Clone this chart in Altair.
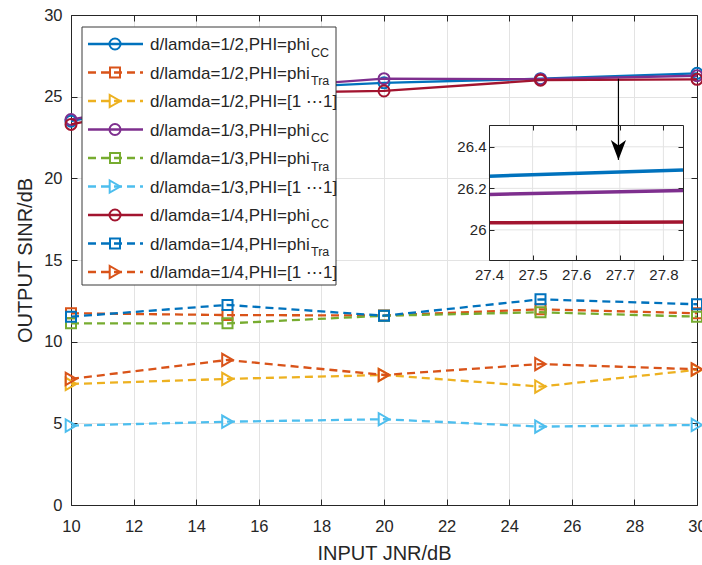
import altair as alt
import pandas as pd

# ---------------------------------------------------------------- data
jnr = [10, 15, 20, 25, 30]

legend_main = [
    "d/lamda=1/2,PHI=phi", "d/lamda=1/2,PHI=phi", "d/lamda=1/2,PHI=[1 \u22ef1]",
    "d/lamda=1/3,PHI=phi", "d/lamda=1/3,PHI=phi", "d/lamda=1/3,PHI=[1 \u22ef1]",
    "d/lamda=1/4,PHI=phi", "d/lamda=1/4,PHI=phi", "d/lamda=1/4,PHI=[1 \u22ef1]",
]
legend_sub = ["CC", "Tra", "", "CC", "Tra", "", "CC", "Tra", ""]
kinds = ["cc", "tra", "one"] * 3

sinr_half_cc = [23.50, 25.40, 25.85, 26.10, 26.43]
sinr_half_tra = [11.74, 11.63, 11.60, 11.98, 11.74]
sinr_half_one = [7.41, 7.72, 7.96, 7.25, 8.28]
sinr_third_cc = [23.60, 25.40, 26.10, 26.07, 26.28]
sinr_third_tra = [11.12, 11.12, 11.59, 11.80, 11.53]
sinr_third_one = [4.86, 5.10, 5.25, 4.80, 4.90]
sinr_quarter_cc = [23.30, 25.20, 25.35, 26.01, 26.06]
sinr_quarter_tra = [11.53, 12.25, 11.59, 12.59, 12.29]
sinr_quarter_one = [7.72, 8.88, 7.96, 8.63, 8.31]

all_series = [sinr_half_cc, sinr_half_tra, sinr_half_one,
              sinr_third_cc, sinr_third_tra, sinr_third_one,
              sinr_quarter_cc, sinr_quarter_tra, sinr_quarter_one]

x_ticks = [10, 12, 14, 16, 18, 20, 22, 24, 26, 28, 30]
y_ticks = [0, 5, 10, 15, 20, 25, 30]
inset_x_ticks = [27.4, 27.5, 27.6, 27.7, 27.8]
inset_y_ticks = [26.0, 26.2, 26.4]

# ---------------------------------------------------------------- style
colors = ["#0072BD", "#D95319", "#EDB120", "#7E2F8E", "#77AC30",
          "#4DBEEE", "#A2142F", "#0072BD", "#D95319"]
shape_of = {"cc": "circle", "tra": "square", "one": "triangle-right"}
size_of = {"cc": 121, "tra": 100, "one": 150}
DASH = [8, 5]
FONT = "Liberation Sans"
INK = "#262626"
GRID = "#e3e3e3"

W, H = 626, 490
X_DOM, Y_DOM = [10, 30], [0, 30]
INSET_X, INSET_Y = [27.4, 27.845], [25.855, 26.505]
INSET_XR, INSET_YR = [418, 612], [245, 110]   # pixel extent of the zoom box
ARROW_X, ARROW_TOP, ARROW_TIP = 27.49, 26.1, 21.13

uid = [f"s{i}" for i in range(9)]
rows = []
for i, vals in enumerate(all_series):
    for x, v in zip(jnr, vals):
        rows.append({"sid": uid[i], "idx": i, "jnr": x, "sinr": v})
df = pd.DataFrame(rows)

leg = pd.DataFrame({
    "idx": list(range(9)), "main": legend_main, "sub": legend_sub,
    "kind": kinds, "color": colors,
    "shape": [shape_of[k] for k in kinds], "size": [size_of[k] for k in kinds],
})


def main_x(axis=None):
    return alt.X("jnr:Q", scale=alt.Scale(domain=X_DOM, nice=False, zero=False),
                 axis=axis)


def main_y(axis=None):
    return alt.Y("sinr:Q", scale=alt.Scale(domain=Y_DOM, nice=False, zero=False),
                 axis=axis)


def ax(**kw):
    base = dict(labelFlush=False, labelOverlap=False, domainColor=INK,
                tickColor=INK, labelColor=INK, labelFont=FONT, grid=False,
                title=None, domainWidth=1, tickWidth=1)
    base.update(kw)
    return alt.Axis(**base)


tick_only = dict(labels=False, domain=False, ticks=True, tickSize=6)

# ---------------------------------------------------------------- main axes
axes_main = [
    alt.Chart(df).mark_point(opacity=0).encode(
        x=main_x(ax(orient="bottom", values=x_ticks, ticks=False, tickSize=0,
                    labelFontSize=16.5, labelPadding=13, grid=True,
                    gridColor=GRID, title="INPUT JNR/dB", titleFont=FONT,
                    titleFontSize=20, titleFontWeight="normal", titleColor=INK,
                    titleY=54, titleBaseline="alphabetic")),
        y=main_y(ax(orient="left", values=y_ticks, ticks=False, tickSize=0,
                    labelFontSize=16.5, labelPadding=9, grid=True,
                    gridColor=GRID, title="OUTPUT SINR/dB", titleFont=FONT,
                    titleFontSize=20, titleFontWeight="normal", titleColor=INK,
                    titleX=-40, titleY=H / 2, titleAngle=270,
                    titleAlign="center", titleBaseline="alphabetic")),
    ),
    alt.Chart(df).mark_point(opacity=0).encode(
        x=main_x(ax(orient="top", offset=-H, values=x_ticks, **tick_only)),
        y=main_y(ax(orient="right", offset=-W, values=y_ticks, **tick_only)),
    ),
    alt.Chart(df).mark_point(opacity=0).encode(
        x=main_x(ax(orient="bottom", offset=-H, values=x_ticks, labels=False,
                    ticks=True, tickSize=6)),
        y=main_y(ax(orient="left", offset=-W, values=y_ticks, labels=False,
                    ticks=True, tickSize=6)),
    ),
]

# ---------------------------------------------------------------- series
series_layers = []
for i in range(9):
    k = kinds[i]
    src = alt.Chart(df).transform_filter(alt.datum.idx == i)
    line_kw = dict(color=colors[i], strokeWidth=2.3)
    if k != "cc":
        line_kw["strokeDash"] = DASH
    series_layers.append(src.mark_line(**line_kw).encode(x=main_x(), y=main_y()))
    series_layers.append(
        src.mark_point(shape=shape_of[k], size=size_of[k], filled=False,
                       color=colors[i], strokeWidth=2, opacity=1)
        .encode(x=main_x(), y=main_y())
    )

# ---------------------------------------------------------------- arrow
arrow_df = pd.DataFrame({"jnr": [ARROW_X], "sinr": [ARROW_TOP], "tip": [ARROW_TIP]})
arrow_layers = [
    alt.Chart(arrow_df).mark_rule(color="black", strokeWidth=1.2).encode(
        x=main_x(), y=main_y(), y2="tip:Q"),
    alt.Chart(arrow_df).mark_point(
        shape="M0,0 L-0.38,-1 L0,-0.72 L0.38,-1 Z", size=1600, filled=True,
        color="black", opacity=1).encode(
        x=main_x(), y=alt.Y("tip:Q", scale=alt.Scale(domain=Y_DOM, nice=False,
                                                    zero=False), axis=None)),
]

# ---------------------------------------------------------------- legend
cc_names = [uid[i] for i in range(9) if kinds[i] == "cc"]
leg_src = alt.Chart(leg).transform_calculate(ly="29 + 28.5 * datum.idx")
legend_layers = [
    alt.Chart(pd.DataFrame({"a": [0]})).mark_rect(
        fill="white", stroke="#3a3a3a", strokeWidth=1).encode(
        x=alt.value(11), x2=alt.value(265), y=alt.value(12), y2=alt.value(270)),
    leg_src.transform_filter(alt.datum.kind == "cc").mark_rule(strokeWidth=2.3)
    .encode(x=alt.value(17), x2=alt.value(72), y=alt.Y("ly:Q", scale=None),
            color=alt.Color("color:N", scale=None)),
    leg_src.transform_filter(alt.datum.kind != "cc").mark_rule(
        strokeWidth=2.3, strokeDash=DASH)
    .encode(x=alt.value(17), x2=alt.value(72), y=alt.Y("ly:Q", scale=None),
            color=alt.Color("color:N", scale=None)),
    leg_src.mark_point(filled=False, strokeWidth=2, opacity=1).encode(
        x=alt.value(44), y=alt.Y("ly:Q", scale=None),
        shape=alt.Shape("shape:N", scale=None),
        size=alt.Size("size:Q", scale=None),
        color=alt.Color("color:N", scale=None)),
    leg_src.transform_calculate(ty="datum.ly + 6").mark_text(
        align="left", baseline="alphabetic", font=FONT, fontSize=17, color=INK)
    .encode(x=alt.value(79), y=alt.Y("ty:Q", scale=None), text="main:N"),
    leg_src.transform_filter(alt.datum.sub != "")
    .transform_calculate(ty="datum.ly + 12.5").mark_text(
        align="left", baseline="alphabetic", font=FONT, fontSize=12.5, color=INK)
    .encode(x=alt.value(240), y=alt.Y("ty:Q", scale=None), text="sub:N"),
]

# ---------------------------------------------------------------- zoom box
in_xs = alt.Scale(domain=INSET_X, range=INSET_XR, nice=False, zero=False)
in_ys = alt.Scale(domain=INSET_Y, range=INSET_YR, nice=False, zero=False)

box_df = pd.DataFrame({"x0": [INSET_X[0]], "x1": [INSET_X[1]],
                       "y0": [INSET_Y[0]], "y1": [INSET_Y[1]]})
vgrid = pd.DataFrame({"gx": inset_x_ticks[1:]})
hgrid = pd.DataFrame({"gy": inset_y_ticks})

inset_layers = [
    alt.Chart(box_df).mark_rect(fill="white").encode(
        x=alt.X("x0:Q", scale=in_xs, axis=None), x2="x1:Q",
        y=alt.Y("y0:Q", scale=in_ys, axis=None), y2="y1:Q"),
    alt.Chart(vgrid).mark_rule(color=GRID, strokeWidth=1)
    .transform_calculate(y0=str(INSET_Y[0]), y1=str(INSET_Y[1]))
    .encode(x=alt.X("gx:Q", scale=in_xs, axis=None),
            y=alt.Y("y0:Q", scale=in_ys, axis=None), y2="y1:Q"),
    alt.Chart(hgrid).mark_rule(color=GRID, strokeWidth=1)
    .transform_calculate(x0=str(INSET_X[0]), x1=str(INSET_X[1]))
    .encode(x=alt.X("x0:Q", scale=in_xs, axis=None), x2="x1:Q",
            y=alt.Y("gy:Q", scale=in_ys, axis=None)),
    # the CC curves seen through the zoom window (segment 25 -> 30 dB)
    alt.Chart(df)
    .transform_filter(alt.FieldOneOfPredicate(field="sid", oneOf=cc_names))
    .transform_filter(alt.datum.jnr >= 25)
    .transform_pivot("jnr", value="sinr", groupby=["sid"])
    .transform_calculate(
        xa=str(INSET_X[0]), xb=str(INSET_X[1]),
        ya=f"datum['25'] + (datum['30'] - datum['25']) * ({INSET_X[0]} - 25) / 5",
        yb=f"datum['25'] + (datum['30'] - datum['25']) * ({INSET_X[1]} - 25) / 5",
    )
    .mark_rule(strokeWidth=3.5)
    .encode(x=alt.X("xa:Q", scale=in_xs, axis=None), x2="xb:Q",
            y=alt.Y("ya:Q", scale=in_ys, axis=None), y2="yb:Q",
            color=alt.Color("sid:N", legend=None,
                            scale=alt.Scale(domain=cc_names,
                                            range=[colors[i] for i in range(9)
                                                   if kinds[i] == "cc"]))),
]

in_src = alt.Chart(box_df).mark_point(opacity=0)
in_tick = dict(labels=False, domain=False, ticks=True, tickSize=5, zindex=2)
inset_axes = [
    in_src.encode(
        x=alt.X("x0:Q", scale=in_xs,
                axis=ax(orient="bottom", offset=INSET_YR[0] - H,
                        values=inset_x_ticks, format=".1f", ticks=False,
                        tickSize=0, labelFontSize=15, labelPadding=7.5,
                        zindex=2)),
        y=alt.Y("y0:Q", scale=in_ys,
                axis=ax(orient="left", offset=-INSET_XR[0],
                        values=inset_y_ticks, format="~g", ticks=False,
                        tickSize=0, labelFontSize=15, labelPadding=3,
                        zindex=2)),
    ),
    in_src.encode(
        x=alt.X("x0:Q", scale=in_xs,
                axis=ax(orient="top", offset=-INSET_YR[0],
                        values=inset_x_ticks, **in_tick)),
        y=alt.Y("y0:Q", scale=in_ys,
                axis=ax(orient="right", offset=INSET_XR[0] - W,
                        values=inset_y_ticks, **in_tick)),
    ),
    in_src.encode(
        x=alt.X("x0:Q", scale=in_xs,
                axis=ax(orient="bottom", offset=INSET_YR[1] - H,
                        values=inset_x_ticks, labels=False, ticks=True,
                        tickSize=5, zindex=2)),
        y=alt.Y("y0:Q", scale=in_ys,
                axis=ax(orient="left", offset=-INSET_XR[1],
                        values=inset_y_ticks, labels=False, ticks=True,
                        tickSize=5, zindex=2)),
    ),
]

# the arrow is drawn last so it reaches down into the zoom box
chart = (
    alt.layer(*axes_main, *series_layers, *legend_layers,
              *inset_layers, *arrow_layers, *inset_axes)
    .resolve_scale(x="independent", y="independent")
    .properties(width=W, height=H,
                autosize=alt.AutoSizeParams(type="none"),
                padding={"left": 71, "top": 15, "right": 5, "bottom": 60},
                background="white")
    .configure_view(stroke=None)
)

chart.save("out.html", embed_options={"renderer": "svg", "actions": False})
